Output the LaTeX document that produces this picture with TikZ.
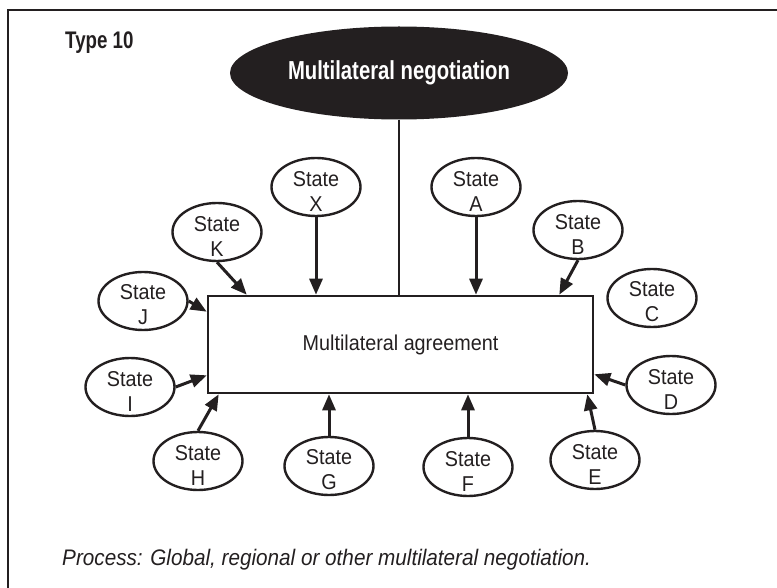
\documentclass[tikz,border=0pt]{standalone}
\usepackage{fontspec}
\setmainfont{Liberation Sans}[FakeStretch=0.92]
\newfontfamily\condfont{Liberation Sans}[FakeStretch=0.78]
\usetikzlibrary{shapes.geometric,arrows.meta}
\definecolor{ink}{HTML}{231F20}
\begin{document}
\begin{tikzpicture}[x=1pt,y=-1pt,
  st/.style={draw=ink, line width=2.4pt, ellipse, minimum width=89pt, minimum height=58pt, inner sep=0pt},
  stl/.style={font=\fontsize{21.5}{25}\selectfont, align=center, text=ink, yshift=-4pt, inner sep=0pt},
  arr/.style={draw=ink, line width=3pt, -{Triangle[length=16pt,width=13pt]}},
  frame/.style={draw=ink, line width=2pt},
]
\useasboundingbox (0,0) rectangle (777,588);
\draw[frame] (7.5,588) -- (7.5,10) -- (777,10);

\node[anchor=base west, font=\condfont\bfseries\fontsize{24}{28}\selectfont, text=ink, inner sep=0pt] (type) at (65,49) {Type 10};

\node[ellipse, fill=ink, minimum width=338pt, minimum height=93pt, inner sep=0pt,
      font=\condfont\bfseries\fontsize{26}{30}\selectfont, text=white] (neg) at (399,73) {Multilateral negotiation};

\node[draw=ink, line width=2.6pt, minimum width=385pt, minimum height=97pt, inner sep=0pt,
      font=\fontsize{21.5}{25}\selectfont, text=ink] (box) at (400.5,344.5) {Multilateral agreement};

\draw[frame, line width=2.5pt] (neg) -- (neg |- box.north);

\node[st, label={[stl]center:State\\X}] (X) at (316,187) {};
\node[st, label={[stl]center:State\\A}] (A) at (476,187) {};
\node[st, label={[stl]center:State\\K}] (K) at (217,232) {};
\node[st, label={[stl]center:State\\B}] (B) at (578,230) {};
\node[st, label={[stl]center:State\\J}] (J) at (143,301) {};
\node[st, label={[stl]center:State\\C}] (C) at (652,298) {};
\node[st, label={[stl]center:State\\I}] (I) at (130,387) {};
\node[st, label={[stl]center:State\\D}] (D) at (671,385) {};
\node[st, label={[stl]center:State\\H}] (H) at (198,461) {};
\node[st, label={[stl]center:State\\G}] (G) at (329,466) {};
\node[st, label={[stl]center:State\\F}] (F) at (468,467) {};
\node[st, label={[stl]center:State\\E}] (E) at (595,460) {};

\draw[arr] (X) -- (X |- box.north);
\draw[arr] (A) -- (A |- box.north);
\draw[arr] (K.south) -- ([xshift=40pt]box.north west);
\draw[arr] (B.south) -- ([xshift=-35pt]box.north east);
\draw[arr] (J.east) -- ([yshift=-17pt]box.north west);
\draw[arr] (I.east) -- ([yshift=19pt]box.south west);
\draw[arr] (H.north) -- ([xshift=12pt]box.south west);
\draw[arr] (G) -- (G |- box.south);
\draw[arr] (F) -- (F |- box.south);
\draw[arr] (E.north) -- ([xshift=-7pt]box.south east);
\draw[arr] (D.west) -- ([yshift=20pt]box.south east);

\node[anchor=base west, font=\itshape\fontsize{22.5}{27}\selectfont, text=ink, inner sep=0pt] (cap) at (62,565) {Process: Global, regional or other multilateral negotiation.};
\end{tikzpicture}
\end{document}
